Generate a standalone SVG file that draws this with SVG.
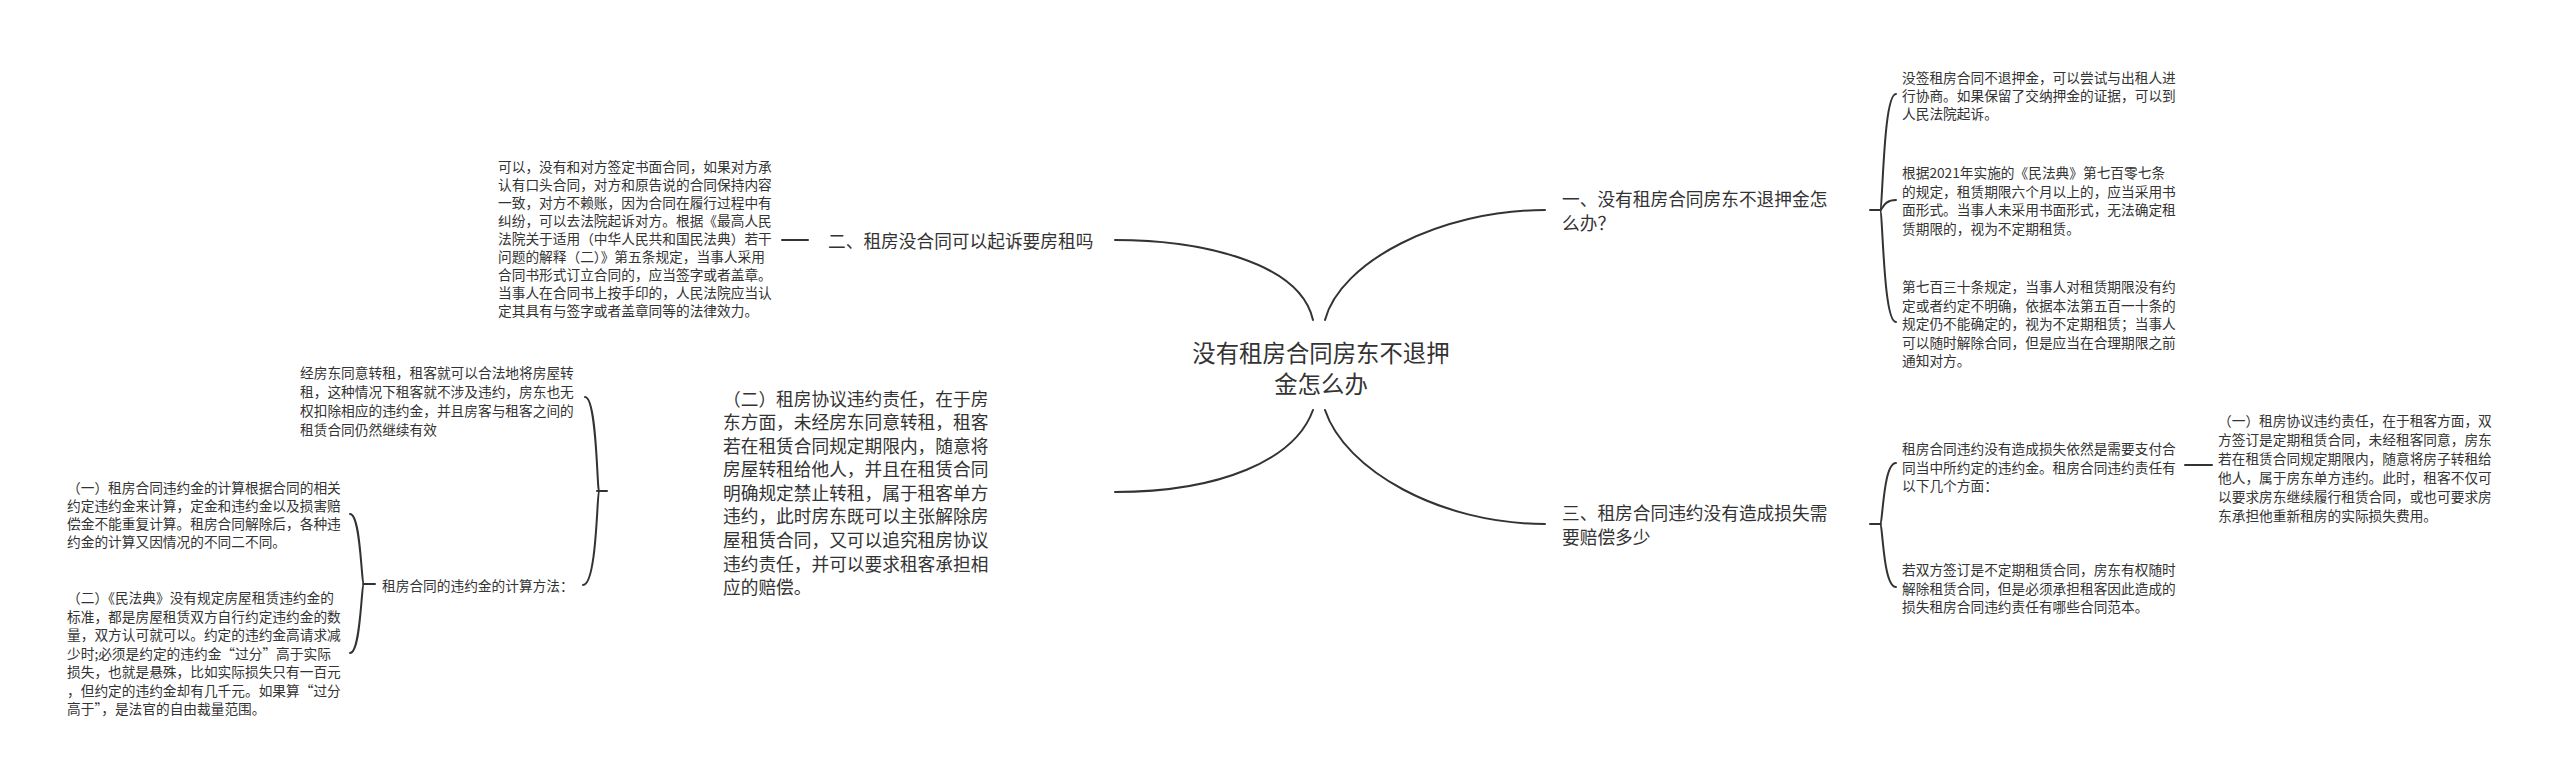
<svg xmlns="http://www.w3.org/2000/svg" width="2560" height="783" viewBox="0 0 2560 783">
<style>
text{font-family:"Noto Sans CJK SC","Noto Sans",sans-serif;fill:#333;dominant-baseline:central}
.s{font-size:13.7px}
.m{font-size:17.7px}
.t{font-size:23.4px}
.c{fill:none;stroke:#333;stroke-width:2;stroke-linecap:round}
</style>
<rect width="2560" height="783" fill="#fff"/>
<g id="connectors">
<path class="c" d="M1313,320 C1300,262 1200,240 1115,240"/>
<path class="c" d="M1325,320 C1340,262 1440,210 1545,210"/>
<path class="c" d="M1313,410 C1295,460 1220,492 1115,492"/>
<path class="c" d="M1325,410 C1345,470 1440,524 1545,524"/>
<path class="c" d="M782,240 L808,240"/>
<path class="c" d="M597,491 L607,491"/>
<path class="c" d="M599,491 C597,491 597,397 585,397"/>
<path class="c" d="M599,491 C597,491 597,585 583,585"/>
<path class="c" d="M363,584 L375,584"/>
<path class="c" d="M364,584 C361,584 361,514 350,514"/>
<path class="c" d="M364,584 C361,584 361,653 350,653"/>
<path class="c" d="M1870,210 L1881,210"/>
<path class="c" d="M1880,210 C1883,210 1883,94 1896,94"/>
<path class="c" d="M1880,210 C1883,210 1883,200 1896,200"/>
<path class="c" d="M1880,210 C1883,210 1883,322 1896,322"/>
<path class="c" d="M1870,524 L1881,524"/>
<path class="c" d="M1880,524 C1883,524 1883,463 1896,463"/>
<path class="c" d="M1880,524 C1883,524 1883,587 1896,587"/>
<path class="c" d="M2185,465 L2212,465"/>
</g>
<g id="root">
<text class="t" x="1321" y="352" text-anchor="middle">没有租房合同房东不退押</text>
<text class="t" x="1321" y="383" text-anchor="middle">金怎么办</text>
</g>
<g id="n2">
<text class="m" x="828" y="240">二、租房没合同可以起诉要房租吗</text>
</g>
<g id="n2a">
<text class="s" x="498" y="166">可以，没有和对方签定书面合同，如果对方承</text>
<text class="s" x="498" y="184">认有口头合同，对方和原告说的合同保持内容</text>
<text class="s" x="498" y="202">一致，对方不赖账，因为合同在履行过程中有</text>
<text class="s" x="498" y="220">纠纷，可以去法院起诉对方。根据《最高人民</text>
<text class="s" x="498" y="238">法院关于适用（中华人民共和国民法典）若干</text>
<text class="s" x="498" y="256">问题的解释（二）》第五条规定，当事人采用</text>
<text class="s" x="498" y="274">合同书形式订立合同的，应当签字或者盖章。</text>
<text class="s" x="498" y="292">当事人在合同书上按手印的，人民法院应当认</text>
<text class="s" x="498" y="310">定其具有与签字或者盖章同等的法律效力。</text>
</g>
<g id="p2">
<text class="m" x="723" y="397.5">（二）租房协议违约责任，在于房</text>
<text class="m" x="723" y="421">东方面，未经房东同意转租，租客</text>
<text class="m" x="723" y="444.6">若在租赁合同规定期限内，随意将</text>
<text class="m" x="723" y="468.2">房屋转租给他人，并且在租赁合同</text>
<text class="m" x="723" y="491.8">明确规定禁止转租，属于租客单方</text>
<text class="m" x="723" y="515.4">违约，此时房东既可以主张解除房</text>
<text class="m" x="723" y="539">屋租赁合同，又可以追究租房协议</text>
<text class="m" x="723" y="562.6">违约责任，并可以要求租客承担相</text>
<text class="m" x="723" y="586.2">应的赔偿。</text>
</g>
<g id="p2a">
<text class="s" x="300" y="372">经房东同意转租，租客就可以合法地将房屋转</text>
<text class="s" x="300" y="391">租，这种情况下租客就不涉及违约，房东也无</text>
<text class="s" x="300" y="410">权扣除相应的违约金，并且房客与租客之间的</text>
<text class="s" x="300" y="429">租赁合同仍然继续有效</text>
</g>
<g id="p2b">
<text class="s" x="382" y="585">租房合同的违约金的计算方法：</text>
</g>
<g id="p2b1">
<text class="s" x="67" y="487">（一）租房合同违约金的计算根据合同的相关</text>
<text class="s" x="67" y="505">约定违约金来计算，定金和违约金以及损害赔</text>
<text class="s" x="67" y="523">偿金不能重复计算。租房合同解除后，各种违</text>
<text class="s" x="67" y="541">约金的计算又因情况的不同二不同。</text>
</g>
<g id="p2b2">
<text class="s" x="67" y="597">（二）《民法典》没有规定房屋租赁违约金的</text>
<text class="s" x="67" y="615.5">标准，都是房屋租赁双方自行约定违约金的数</text>
<text class="s" x="67" y="634">量，双方认可就可以。约定的违约金高请求减</text>
<text class="s" x="67" y="652.5">少时;必须是约定的违约金“过分”高于实际</text>
<text class="s" x="67" y="671">损失，也就是悬殊，比如实际损失只有一百元</text>
<text class="s" x="67" y="689.5">，但约定的违约金却有几千元。如果算“过分</text>
<text class="s" x="67" y="708">高于”，是法官的自由裁量范围。</text>
</g>
<g id="n1">
<text class="m" x="1562" y="198">一、没有租房合同房东不退押金怎</text>
<text class="m" x="1562" y="222">么办？</text>
</g>
<g id="n1a">
<text class="s" x="1902" y="77">没签租房合同不退押金，可以尝试与出租人进</text>
<text class="s" x="1902" y="95">行协商。如果保留了交纳押金的证据，可以到</text>
<text class="s" x="1902" y="113">人民法院起诉。</text>
</g>
<g id="n1b">
<text class="s" x="1902" y="172">根据2021年实施的《民法典》第七百零七条</text>
<text class="s" x="1902" y="190.5">的规定，租赁期限六个月以上的，应当采用书</text>
<text class="s" x="1902" y="209">面形式。当事人未采用书面形式，无法确定租</text>
<text class="s" x="1902" y="227.5">赁期限的，视为不定期租赁。</text>
</g>
<g id="n1c">
<text class="s" x="1902" y="286">第七百三十条规定，当事人对租赁期限没有约</text>
<text class="s" x="1902" y="304.5">定或者约定不明确，依据本法第五百一十条的</text>
<text class="s" x="1902" y="323">规定仍不能确定的，视为不定期租赁；当事人</text>
<text class="s" x="1902" y="341.5">可以随时解除合同，但是应当在合理期限之前</text>
<text class="s" x="1902" y="360">通知对方。</text>
</g>
<g id="n3">
<text class="m" x="1562" y="512">三、租房合同违约没有造成损失需</text>
<text class="m" x="1562" y="536">要赔偿多少</text>
</g>
<g id="n3a">
<text class="s" x="1902" y="448">租房合同违约没有造成损失依然是需要支付合</text>
<text class="s" x="1902" y="466.5">同当中所约定的违约金。租房合同违约责任有</text>
<text class="s" x="1902" y="485">以下几个方面：</text>
</g>
<g id="n3a1">
<text class="s" x="2218" y="420">（一）租房协议违约责任，在于租客方面，双</text>
<text class="s" x="2218" y="439">方签订是定期租赁合同，未经租客同意，房东</text>
<text class="s" x="2218" y="458">若在租赁合同规定期限内，随意将房子转租给</text>
<text class="s" x="2218" y="477">他人，属于房东单方违约。此时，租客不仅可</text>
<text class="s" x="2218" y="496">以要求房东继续履行租赁合同，或也可要求房</text>
<text class="s" x="2218" y="515">东承担他重新租房的实际损失费用。</text>
</g>
<g id="n3b">
<text class="s" x="1902" y="569">若双方签订是不定期租赁合同，房东有权随时</text>
<text class="s" x="1902" y="587.5">解除租赁合同，但是必须承担租客因此造成的</text>
<text class="s" x="1902" y="606">损失租房合同违约责任有哪些合同范本。</text>
</g>
</svg>
